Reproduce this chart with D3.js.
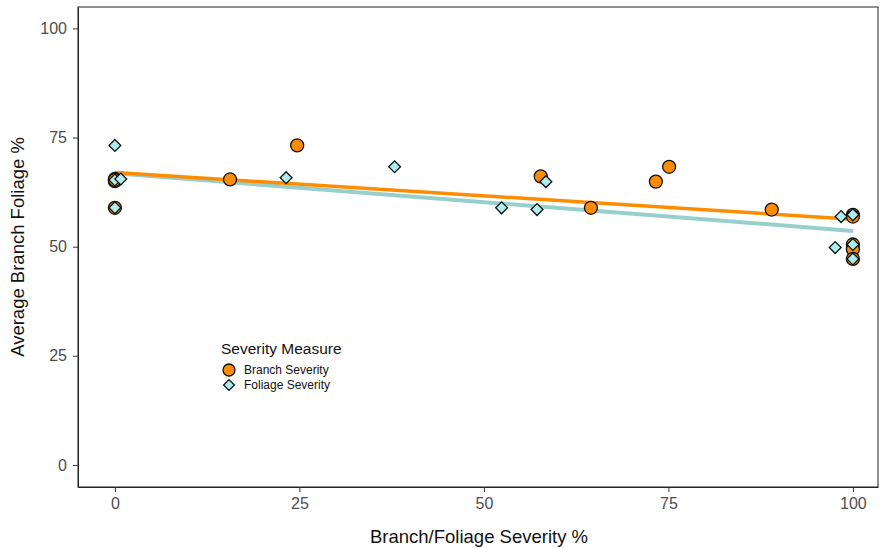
<!DOCTYPE html>
<html>
<head>
<meta charset="utf-8">
<script src="https://cdn.jsdelivr.net/npm/d3@7"></script>
<style>
  html, body { margin: 0; padding: 0; background: #fff; }
  svg { display: block; font-family: "Liberation Sans", Arial, sans-serif; }
</style>
</head>
<body>
<svg id="chart" width="880" height="548"></svg>
<script>
// ---- data ----
const branchX = [0, 0, 0, 0, 15.6, 24.7, 57.7, 64.5, 73.3, 75.1, 89.0, 100, 100, 100, 100, 100];
const branchY = [65.5, 65.0, 65.3, 58.9, 65.4, 73.2, 66.1, 58.9, 64.9, 68.3, 58.5, 57.3, 56.9, 50.5, 49.4, 47.2];

const foliageX = [0, 0, 0.8, 0, 23.2, 37.9, 52.4, 57.2, 58.4, 97.6, 98.4, 100, 100, 100];
const foliageY = [73.2, 65.3, 65.5, 58.9, 65.8, 68.3, 58.9, 58.5, 64.9, 49.8, 56.9, 57.3, 50.5, 47.2];

// fitted trend lines (values at x = 0 and x = 100)
const trendX = [0, 100];
const branchTrend = [67.0, 56.3];
const foliageTrend = [66.8, 53.6];

const xTicks = [0, 25, 50, 75, 100];
const yTicks = [0, 25, 50, 75, 100];
const seriesNames = ["Branch Severity", "Foliage Severity"];

// ---- layout ----
const svg = d3.select("#chart");
const pLeft = 78, pRight = 878, pTop = 7, pBottom = 487;

const x = d3.scaleLinear().domain([-5.0, 103.4]).range([pLeft, pRight]);
const y = d3.scaleLinear().domain([-5.05, 104.9]).range([pBottom, pTop]);

const orange = "#FF8C00";
const teal = "#97CFCC";
const diamondFill = "#AEEEEE";
const tickColor = "#4d4d4d";

// panel border
svg.append("rect")
  .attr("x", pLeft).attr("y", pTop)
  .attr("width", pRight - pLeft).attr("height", pBottom - pTop)
  .attr("fill", "none").attr("stroke", "#222").attr("stroke-width", 1);

// axes
const xAxis = d3.axisBottom(x).tickValues(xTicks).tickSize(5).tickSizeOuter(0).tickPadding(6);
const yAxis = d3.axisLeft(y).tickValues(yTicks).tickSize(5).tickSizeOuter(0).tickPadding(6);

const gx = svg.append("g").attr("transform", `translate(0,${pBottom})`).call(xAxis);
const gy = svg.append("g").attr("transform", `translate(${pLeft},0)`).call(yAxis);
[gx, gy].forEach(g => {
  g.select(".domain").attr("stroke", "#222");
  g.selectAll(".tick line").attr("stroke", "#333");
  g.selectAll(".tick text").attr("fill", tickColor)
    .style("font-size", "16px").style("font-family", "'Liberation Sans', Arial, sans-serif");
});

// axis titles
svg.append("text")
  .attr("x", 479).attr("y", 543)
  .attr("text-anchor", "middle")
  .style("font-size", "18.5px").attr("fill", "#111")
  .text("Branch/Foliage Severity %");

svg.append("text")
  .attr("transform", `translate(24,${(pTop + pBottom) / 2}) rotate(-90)`)
  .attr("text-anchor", "middle")
  .style("font-size", "18.5px").attr("fill", "#111")
  .text("Average Branch Foliage %");

// trend lines
const line = d3.line().x(d => x(d[0])).y(d => y(d[1]));
svg.append("path")
  .datum(trendX.map((v, i) => [v, foliageTrend[i]]))
  .attr("d", line).attr("fill", "none")
  .attr("stroke", teal).attr("stroke-width", 4);
svg.append("path")
  .datum(trendX.map((v, i) => [v, branchTrend[i]]))
  .attr("d", line).attr("fill", "none")
  .attr("stroke", orange).attr("stroke-width", 3.5);

// points
const branchData = branchX.map((v, i) => [v, branchY[i]]);
const foliageData = foliageX.map((v, i) => [v, foliageY[i]]);

svg.append("g").selectAll("circle").data(branchData).join("circle")
  .attr("cx", d => x(d[0])).attr("cy", d => y(d[1])).attr("r", 6.5)
  .attr("fill", orange).attr("stroke", "#111").attr("stroke-width", 1.3);

svg.append("g").selectAll("path").data(foliageData).join("path")
  .attr("transform", d => `translate(${x(d[0])},${y(d[1])}) rotate(45)`)
  .attr("d", d3.symbol().type(d3.symbolSquare).size(70))
  .attr("fill", diamondFill).attr("stroke", "#111").attr("stroke-width", 1.3);

// legend
const lg = svg.append("g");
lg.append("text").attr("x", 221).attr("y", 354)
  .style("font-size", "15.5px").attr("fill", "#111").text("Severity Measure");
lg.append("circle").attr("cx", 229).attr("cy", 370).attr("r", 6)
  .attr("fill", orange).attr("stroke", "#111").attr("stroke-width", 1.3);
lg.append("path").attr("transform", "translate(229,385) rotate(45)")
  .attr("d", d3.symbol().type(d3.symbolSquare).size(58))
  .attr("fill", diamondFill).attr("stroke", "#111").attr("stroke-width", 1.3);
lg.selectAll("text.item").data(seriesNames).join("text").attr("class", "item")
  .attr("x", 244).attr("y", (d, i) => 374 + i * 15)
  .style("font-size", "12px").attr("fill", "#111").text(d => d);
</script>
</body>
</html>
